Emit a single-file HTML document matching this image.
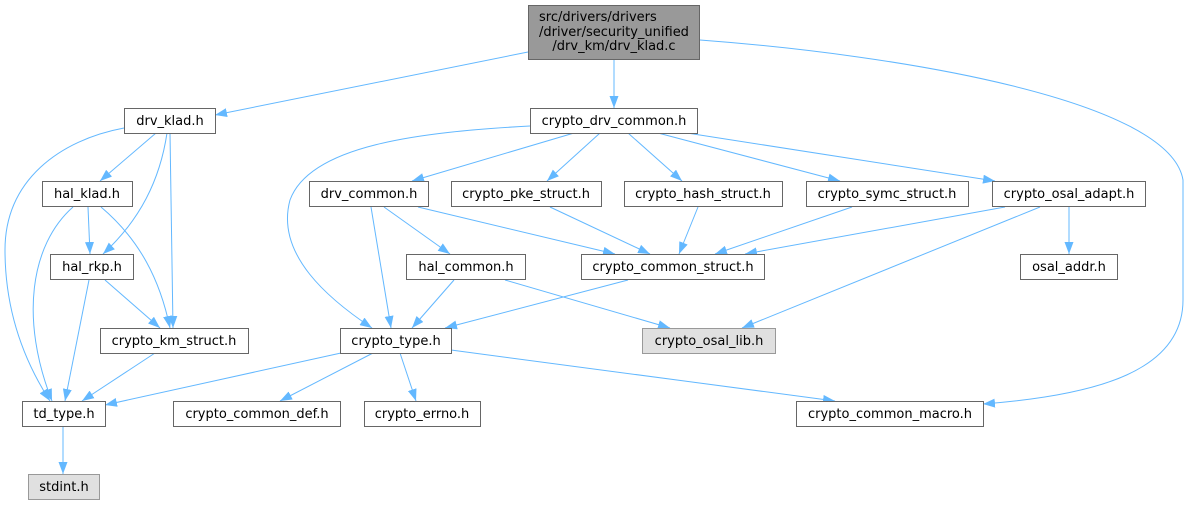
<!DOCTYPE html>
<html><head><meta charset="utf-8"><style>
html,body{margin:0;padding:0;background:#fff;}
svg{display:block;}
text{font-family:"DejaVu Sans","Liberation Sans",sans-serif;font-size:13px;fill:#000;}
</style></head><body>
<svg width="1189" height="505" viewBox="0 0 1189 505" xmlns="http://www.w3.org/2000/svg">
<defs>
<marker id="a" viewBox="0 0 12 9" refX="12" refY="4.5" markerWidth="12" markerHeight="9" markerUnits="userSpaceOnUse" orient="auto">
<path d="M0,0 L12,4.5 L0,9 z" fill="#63b8ff"/>
</marker>
</defs>
<g fill="none" stroke="#63b8ff" stroke-width="1" marker-end="url(#a)">
<path d="M528,52 L215,115"/>
<path d="M614,60 L614,108"/>
<path d="M700,40 C900,55 1170,100 1183,180 L1183,300 C1183,370 1100,395 983,404"/>
<path d="M156,133 L100,181"/>
<path d="M167,133 C160,180 140,220 103,254"/>
<path d="M170,133 L173,328"/>
<path d="M124,128 C60,140 5,180 5,250 C5,320 30,370 50,401"/>
<path d="M88,207 L90,254"/>
<path d="M101,207 C140,240 160,280 170,328"/>
<path d="M73,207 C30,245 20,320 52,401"/>
<path d="M105,280 L160,328"/>
<path d="M89,280 L65,401"/>
<path d="M155,353 L82,401"/>
<path d="M63,427 L63,474"/>
<path d="M530,126 C420,132 310,145 290,200 C275,255 330,300 372,328"/>
<path d="M574,133 L412,181"/>
<path d="M600,133 L547,181"/>
<path d="M628,133 L682,181"/>
<path d="M658,133 L840,181"/>
<path d="M687,133 L995,181"/>
<path d="M371,207 L391,328"/>
<path d="M384,207 L450,254"/>
<path d="M418,207 L615,254"/>
<path d="M550,207 L650,254"/>
<path d="M698,207 L679,254"/>
<path d="M852,207 L715,254"/>
<path d="M1005,207 L745,254"/>
<path d="M1040,207 L742,328"/>
<path d="M1069,207 L1069,254"/>
<path d="M454,280 L412,328"/>
<path d="M505,280 L670,328"/>
<path d="M628,280 L445,328"/>
<path d="M341,353 L105,405"/>
<path d="M373,353 L280,401"/>
<path d="M400,353 L416,401"/>
<path d="M451,350 L835,401"/>
</g>
<g stroke="#666" stroke-width="1">
<rect x="528.5" y="5.5" width="171" height="54" fill="#999"/>
<rect x="124.5" y="108.5" width="91" height="25" fill="#fff"/>
<rect x="530.5" y="108.5" width="167" height="25" fill="#fff"/>
<rect x="42.5" y="181.5" width="90" height="25" fill="#fff"/>
<rect x="309.5" y="181.5" width="119" height="25" fill="#fff"/>
<rect x="451.5" y="181.5" width="150" height="25" fill="#fff"/>
<rect x="624.5" y="181.5" width="158" height="25" fill="#fff"/>
<rect x="806.5" y="181.5" width="162" height="25" fill="#fff"/>
<rect x="992.5" y="181.5" width="153" height="25" fill="#fff"/>
<rect x="50.5" y="254.5" width="83" height="25" fill="#fff"/>
<rect x="406.5" y="254.5" width="119" height="25" fill="#fff"/>
<rect x="581.5" y="254.5" width="183" height="25" fill="#fff"/>
<rect x="1020.5" y="254.5" width="97" height="25" fill="#fff"/>
<rect x="100.5" y="328.5" width="148" height="25" fill="#fff"/>
<rect x="340.5" y="328.5" width="111" height="25" fill="#fff"/>
<rect x="642.5" y="328.5" width="133" height="25" fill="#e0e0e0" stroke="#999"/>
<rect x="22.5" y="401.5" width="83" height="25" fill="#fff"/>
<rect x="173.5" y="401.5" width="167" height="25" fill="#fff"/>
<rect x="364.5" y="401.5" width="116" height="25" fill="#fff"/>
<rect x="796.5" y="401.5" width="187" height="25" fill="#fff"/>
<rect x="28.5" y="474.5" width="71" height="25" fill="#e0e0e0" stroke="#999"/>
</g>
<g text-anchor="middle">
<text x="539" y="21" text-anchor="start">src/drivers/drivers</text>
<text x="539" y="36" text-anchor="start">/driver/security_unified</text>
<text x="614" y="50">/drv_km/drv_klad.c</text>
<text x="170" y="125">drv_klad.h</text>
<text x="614" y="125">crypto_drv_common.h</text>
<text x="87" y="198">hal_klad.h</text>
<text x="369" y="198">drv_common.h</text>
<text x="526" y="198">crypto_pke_struct.h</text>
<text x="703" y="198">crypto_hash_struct.h</text>
<text x="887" y="198">crypto_symc_struct.h</text>
<text x="1069" y="198">crypto_osal_adapt.h</text>
<text x="92" y="271">hal_rkp.h</text>
<text x="466" y="271">hal_common.h</text>
<text x="673" y="271">crypto_common_struct.h</text>
<text x="1069" y="271">osal_addr.h</text>
<text x="174" y="345">crypto_km_struct.h</text>
<text x="396" y="345">crypto_type.h</text>
<text x="709" y="345">crypto_osal_lib.h</text>
<text x="64" y="418">td_type.h</text>
<text x="257" y="418">crypto_common_def.h</text>
<text x="422" y="418">crypto_errno.h</text>
<text x="890" y="418">crypto_common_macro.h</text>
<text x="64" y="491">stdint.h</text>
</g>
</svg>
</body></html>
